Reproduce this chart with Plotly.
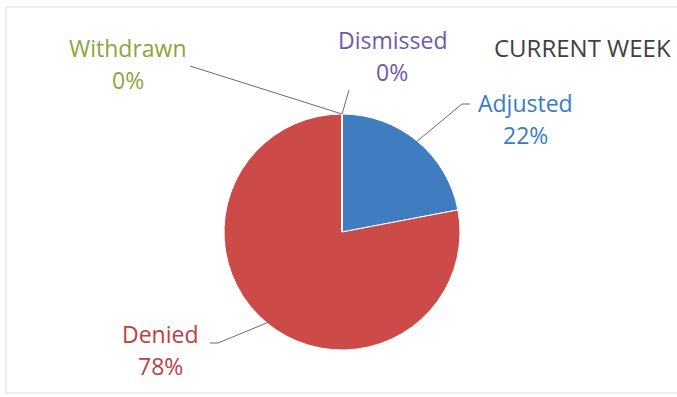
import math
import plotly.graph_objects as go

labels = ["Adjusted", "Denied", "Withdrawn", "Dismissed"]
values = [22, 78, 0, 0]
slice_colors = ["#3f7cc0", "#cc4a48", "#9bbb59", "#8064a2"]
text_colors = ["#3a7cc4", "#c0403e", "#8aa63a", "#6f5aa8"]
title_text = "CURRENT WEEK"

W, H = 677, 397
cx, cy, r = 342, 232, 118

# label name positions (pixel); percentage drawn 32px below
label_pos = {
    "Adjusted": (525, 103),
    "Denied": (160, 334),
    "Withdrawn": (128, 48),
    "Dismissed": (392, 40),
}
elbow = {
    "Adjusted": [(462, 104), (470, 104)],
    "Denied": [(218, 343), (210, 343)],
    "Withdrawn": [(190, 66)],
    "Dismissed": [(349, 90)],
}
FONT = "Open Sans"

def px(x):
    return x / W

def py(y):
    return 1 - y / H

fig = go.Figure(go.Pie(
    labels=labels, values=values, sort=False, direction="clockwise", rotation=0,
    marker=dict(colors=slice_colors, line=dict(color="white", width=1)),
    textinfo="none", hoverinfo="label+percent", showlegend=False,
    domain=dict(x=[px(cx - r), px(cx + r)], y=[py(cy + r), py(cy - r)]),
))

total = sum(values)
cum = 0
shapes = []
annotations = []
for lab, v, tc in zip(labels, values, text_colors):
    mid = (cum + v / 2) / total * 2 * math.pi
    cum += v
    ex = cx + r * math.sin(mid)
    ey = cy - r * math.cos(mid)
    pts = [(ex, ey)] + elbow[lab]
    path = "M " + " L ".join(f"{px(a):.4f},{py(b):.4f}" for a, b in pts)
    shapes.append(dict(type="path", xref="paper", yref="paper", path=path,
                       line=dict(color="#6b6b6b", width=1)))
    tx, ty = label_pos[lab]
    pct = round(v / total * 100)
    for txt, yy in ((lab, ty), (f"{pct}%", ty + 32)):
        annotations.append(dict(x=px(tx), y=py(yy), xref="paper", yref="paper",
                                text=txt, showarrow=False,
                                font=dict(family=FONT, size=23, color=tc),
                                xanchor="center", yanchor="middle"))

annotations.append(dict(x=px(673), y=py(47), xref="paper", yref="paper",
                        text=title_text, showarrow=False, xanchor="right", yanchor="middle",
                        font=dict(family=FONT, size=24, color="#404040")))

shapes.append(dict(type="rect", xref="paper", yref="paper",
                   x0=px(6), x1=px(700), y0=py(393), y1=py(7),
                   line=dict(color="#dcdcdc", width=1)))

fig.update_layout(
    width=W, height=H, margin=dict(l=0, r=0, t=0, b=0),
    paper_bgcolor="white", plot_bgcolor="white",
    shapes=shapes, annotations=annotations,
)
fig.write_html("out.html")
